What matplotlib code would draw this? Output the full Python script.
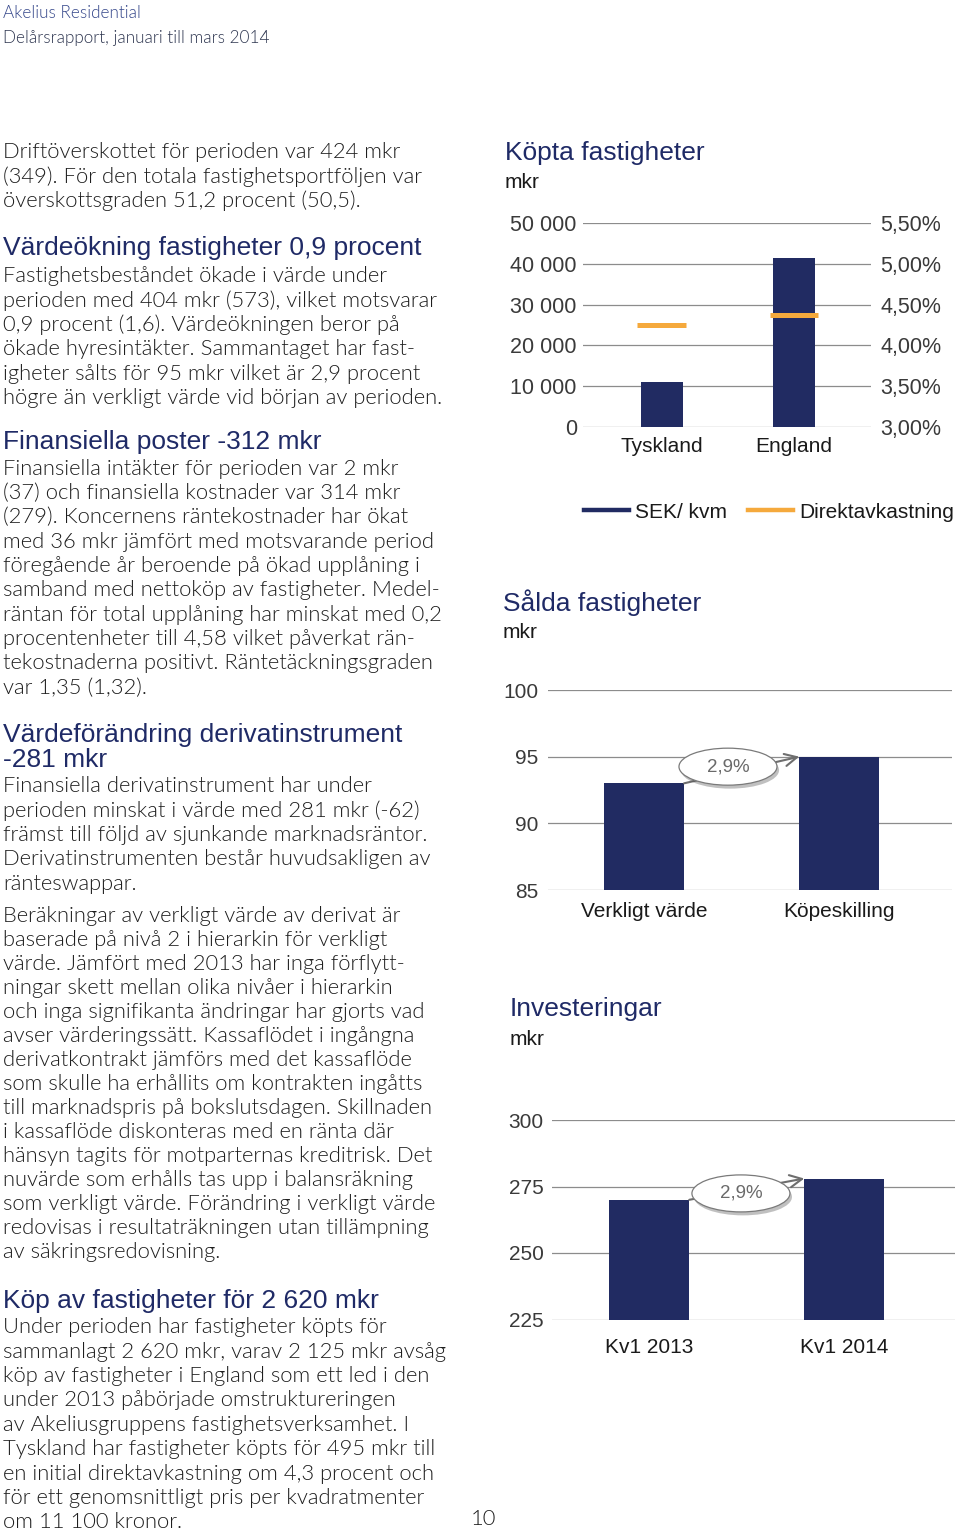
import matplotlib
matplotlib.use('Agg')
import matplotlib.pyplot as plt
import matplotlib.patheffects as pe
from matplotlib.lines import Line2D
from matplotlib.patches import Ellipse
import numpy as np

W, H = 960, 1533

# Köpta fastigheter (SEK/kvm on left axis, direktavkastning on right axis)
kopta_labels = ['Tyskland', 'England']
kopta_sek_kvm = [11000, 41500]
kopta_direktavkastning = [4.25, 4.37]
kopta_left_ticks = [0, 10000, 20000, 30000, 40000, 50000]
kopta_right_ticks = [3.0, 3.5, 4.0, 4.5, 5.0, 5.5]

# Sålda fastigheter, mkr
salda_labels = ['Verkligt värde', 'Köpeskilling']
salda_values = [93, 95]
salda_ticks = [85, 90, 95, 100]
salda_change = '2,9%'

# Investeringar, mkr
inv_labels = ['Kv1 2013', 'Kv1 2014']
inv_values = [270, 278]
inv_ticks = [225, 250, 275, 300]
inv_change = '2,9%'

NAVY = '#212b62'
HEAD = '#1f2a66'
ORANGE = '#f5a93c'
GRID = '#8c8c8c'
BODY = '#1e1e1e'
TICK = '#3a3a3a'

BODY_FONT = dict(family='Lato', fontweight=300, fontsize=15.8, color=BODY)
HEAD_FONT = dict(family='Liberation Sans', fontsize=19, color=HEAD)
CHART_FONT = 'Liberation Sans'

# left column text: (baseline of first line, line spacing, lines, style)
blocks = [
    (158.3, 24.5, ['Driftöverskottet för perioden var 424 mkr',
                   '(349). För den totala fastighetsportföljen var',
                   'överskottsgraden 51,2 procent (50,5).'], 'body'),
    (255, 24.5, ['Värdeökning fastigheter 0,9 procent'], 'head'),
    (282.3, 24.3, ['Fastighetsbeståndet ökade i värde under',
                   'perioden med 404 mkr (573), vilket motsvarar',
                   '0,9 procent (1,6). Värdeökningen beror på',
                   'ökade hyresintäkter. Sammantaget har fast-',
                   'igheter sålts för 95 mkr vilket är 2,9 procent',
                   'högre än verkligt värde vid början av perioden.'], 'body'),
    (449.3, 24.5, ['Finansiella poster -312 mkr'], 'head'),
    (475, 24.3, ['Finansiella intäkter för perioden var 2 mkr',
                 '(37) och finansiella kostnader var 314 mkr',
                 '(279). Koncernens räntekostnader har ökat',
                 'med 36 mkr jämfört med motsvarande period',
                 'föregående år beroende på ökad upplåning i',
                 'samband med nettoköp av fastigheter. Medel-',
                 'räntan för total upplåning har minskat med 0,2',
                 'procentenheter till 4,58 vilket påverkat rän-',
                 'tekostnaderna positivt. Räntetäckningsgraden',
                 'var 1,35 (1,32).'], 'body'),
    (741.7, 25, ['Värdeförändring derivatinstrument', '-281 mkr'], 'head'),
    (792.3, 24.3, ['Finansiella derivatinstrument har under',
                   'perioden minskat i värde med 281 mkr (-62)',
                   'främst till följd av sjunkande marknadsräntor.',
                   'Derivatinstrumenten består huvudsakligen av',
                   'ränteswappar.'], 'body'),
    (921.7, 24.05, ['Beräkningar av verkligt värde av derivat är',
                    'baserade på nivå 2 i hierarkin för verkligt',
                    'värde. Jämfört med 2013 har inga förflytt-',
                    'ningar skett mellan olika nivåer i hierarkin',
                    'och inga signifikanta ändringar har gjorts vad',
                    'avser värderingssätt. Kassaflödet i ingångna',
                    'derivatkontrakt jämförs med det kassaflöde',
                    'som skulle ha erhållits om kontrakten ingåtts',
                    'till marknadspris på bokslutsdagen. Skillnaden',
                    'i kassaflöde diskonteras med en ränta där',
                    'hänsyn tagits för motparternas kreditrisk. Det',
                    'nuvärde som erhålls tas upp i balansräkning',
                    'som verkligt värde. Förändring i verkligt värde',
                    'redovisas i resultaträkningen utan tillämpning',
                    'av säkringsredovisning.'], 'body'),
    (1308.3, 24.5, ['Köp av fastigheter för 2 620 mkr'], 'head'),
    (1333.3, 24.4, ['Under perioden har fastigheter köpts för',
                    'sammanlagt 2 620 mkr, varav 2 125 mkr avsåg',
                    'köp av fastigheter i England som ett led i den',
                    'under 2013 påbörjade omstruktureringen',
                    'av Akeliusgruppens fastighetsverksamhet. I',
                    'Tyskland har fastigheter köpts för 495 mkr till',
                    'en initial direktavkastning om 4,3 procent och',
                    'för ett genomsnittligt pris per kvadratmenter',
                    'om 11 100 kronor.'], 'body'),
]


def fx(px):
    return px / W


def fy(py):
    return 1 - py / H


def add_axes(fig, left, right, top, bottom):
    return fig.add_axes([left / W, 1 - bottom / H, (right - left) / W, (bottom - top) / H])


def clean(ax):
    for s in ax.spines.values():
        s.set_visible(False)


def thousands(v):
    return f'{v:,}'.replace(',', ' ')


def change_bar_chart(fig, box, labels, values, ticks, change, xlim, bar_w,
                     ytick_pad, xtick_pad, ell_x, ell_dy):
    left, right, top, bottom = box
    ax = add_axes(fig, left, right, top, bottom)
    x = np.arange(len(values))
    ax.bar(x, [v - ticks[0] for v in values], bottom=ticks[0], width=bar_w,
           color=NAVY, zorder=3)
    ax.set_xlim(*xlim)
    ax.set_ylim(ticks[0], ticks[-1])
    ax.set_yticks(ticks)
    ax.set_yticklabels([str(t) for t in ticks])
    ax.set_xticks(x)
    ax.set_xticklabels(labels)
    ax.grid(axis='y', color=GRID, lw=0.9, zorder=0)
    ax.set_axisbelow(True)
    ax.tick_params(axis='y', length=0, pad=ytick_pad, labelsize=15, labelcolor=TICK)
    ax.tick_params(axis='x', length=0, pad=xtick_pad, labelsize=15, labelcolor='#1a1a1a')
    for t in ax.get_xticklabels() + ax.get_yticklabels():
        t.set_family(CHART_FONT)
    clean(ax)

    # arrow from first bar top to second bar top, with the change in an ellipse
    ax.annotate('', xy=(x[1] - bar_w / 2, values[1]), xytext=(x[0] + bar_w / 2, values[0]),
                arrowprops=dict(arrowstyle='->', color='#6e6e6e', lw=1.5,
                                shrinkA=0, shrinkB=0, mutation_scale=22), zorder=4)
    px_x = (right - left) / (xlim[1] - xlim[0])
    px_y = (bottom - top) / (ticks[-1] - ticks[0])
    ey = (values[0] + values[1]) / 2 + ell_dy
    ell = Ellipse((ell_x, ey), 98 / px_x, 37 / px_y, facecolor='white',
                  edgecolor='#7a7a7a', lw=0.9, zorder=5,
                  path_effects=[pe.SimplePatchShadow(offset=(1.5, -2.5), alpha=0.35),
                                pe.Normal()])
    ax.add_patch(ell)
    ax.text(ell_x, ey, change, ha='center', va='center', fontsize=13.5,
            color='#6a6a6a', family=CHART_FONT, zorder=6)
    return ax


fig = plt.figure(figsize=(W / 100, H / 100), dpi=100)
fig.patch.set_facecolor('white')

# header
fig.text(fx(3), fy(18.3), 'Akelius Residential', family='Lato', fontweight=300,
         fontsize=12.3, color='#34468a')
fig.text(fx(3), fy(43.3), 'Delårsrapport, januari till mars 2014', family='Lato',
         fontweight=300, fontsize=12.3, color='#2e3650')

for y0, step, lines, kind in blocks:
    style = BODY_FONT if kind == 'body' else HEAD_FONT
    for i, line in enumerate(lines):
        fig.text(fx(3), fy(y0 + i * step), line, va='baseline', ha='left', **style)

fig.text(fx(471), fy(1525), '10', va='baseline', **BODY_FONT)

# chart titles
for px, py, title in [(505, 160, 'Köpta fastigheter'), (503, 610.7, 'Sålda fastigheter'),
                      (510, 1015.7, 'Investeringar')]:
    fig.text(fx(px), fy(py), title, va='baseline', **HEAD_FONT)
for px, py in [(505, 188.3), (503, 638.3), (510, 1045)]:
    fig.text(fx(px), fy(py), 'mkr', va='baseline', family=CHART_FONT, fontsize=15,
             color='#1a1a1a')

# --- Köpta fastigheter ---
ax1 = add_axes(fig, 583, 871, 223, 427)
x = np.arange(len(kopta_labels))
ax1.bar(x, kopta_sek_kvm, width=0.317, color=NAVY, zorder=3)
ax1.set_xlim(-0.595, 1.582)
ax1.set_ylim(kopta_left_ticks[0], kopta_left_ticks[-1])
ax1.set_yticks(kopta_left_ticks)
ax1.set_yticklabels([thousands(t) for t in kopta_left_ticks])
ax1.set_xticks(x)
ax1.set_xticklabels(kopta_labels)
ax1.grid(axis='y', color=GRID, lw=0.9)
ax1.set_axisbelow(True)
ax1.tick_params(axis='y', length=0, pad=4.5, labelsize=15.5, labelcolor=TICK)
ax1.tick_params(axis='x', length=0, pad=7.5, labelsize=15, labelcolor='#1a1a1a')
clean(ax1)

ax2 = ax1.twinx()
ax2.set_ylim(kopta_right_ticks[0], kopta_right_ticks[-1])
ax2.set_yticks(kopta_right_ticks)
ax2.set_yticklabels([f'{t:.2f}%'.replace('.', ',') for t in kopta_right_ticks])
ax2.hlines(kopta_direktavkastning, x - 0.185, x + 0.185, color=ORANGE, lw=3.6, zorder=4)
ax2.tick_params(axis='y', length=0, pad=6.5, labelsize=15.5, labelcolor=TICK)
clean(ax2)
for t in (ax1.get_xticklabels() + ax1.get_yticklabels() + ax2.get_yticklabels()):
    t.set_family(CHART_FONT)

handles = [Line2D([], [], color=NAVY, lw=3.2), Line2D([], [], color=ORANGE, lw=3.2)]
fig.legend(handles, ['SEK/ kvm', 'Direktavkastning'], loc='center left',
           bbox_to_anchor=(fx(584), fy(512)), ncol=2, frameon=False,
           prop=dict(family=CHART_FONT, size=15), handlelength=2.15, handletextpad=0.3,
           columnspacing=1.0, borderpad=0, borderaxespad=0, labelcolor='#1a1a1a')

# --- Sålda fastigheter ---
change_bar_chart(fig, (548, 952, 690, 890), salda_labels, salda_values, salda_ticks,
                 salda_change, (-0.4915, 1.577), 0.41, 7, 8.5, 0.43, 0.25)

# --- Investeringar ---
change_bar_chart(fig, (552, 955, 1120, 1319.5), inv_labels, inv_values, inv_ticks,
                 inv_change, (-0.499, 1.568), 0.41, 6, 13, 0.47, -1.6)

fig.savefig('out.png', dpi=100, facecolor='white')
